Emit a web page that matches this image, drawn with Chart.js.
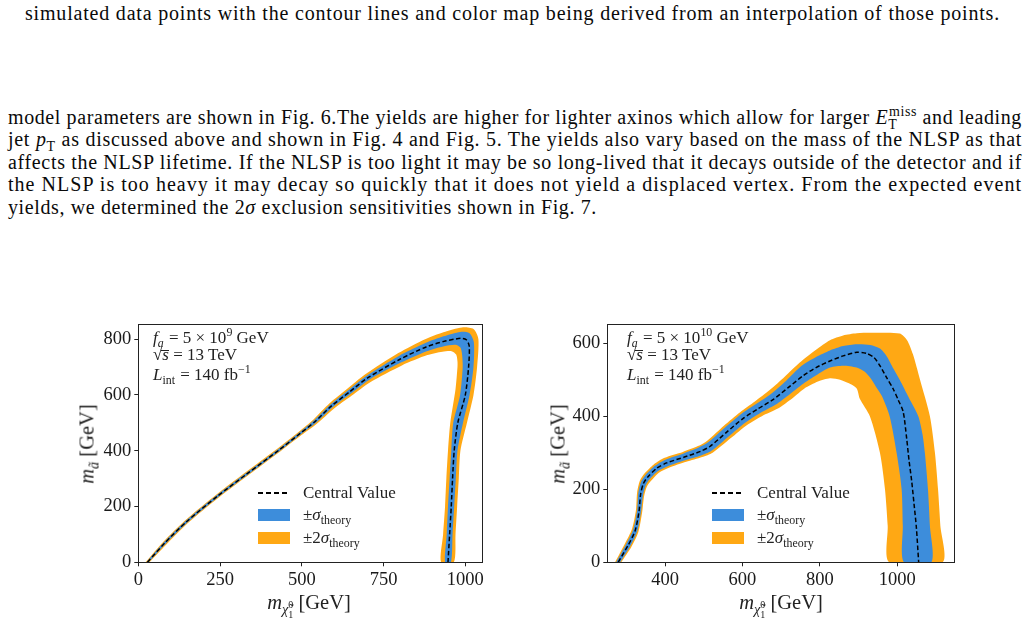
<!DOCTYPE html>
<html>
<head>
<meta charset="utf-8">
<script src="https://cdn.jsdelivr.net/npm/chart.js@4.4.1/dist/chart.umd.min.js"></script>
<style>
  html, body { margin: 0; padding: 0; background: #fff; }
  body { width: 1030px; height: 624px; position: relative; overflow: hidden;
         font-family: "Liberation Serif", "Times New Roman", serif; color: #111; }
  .txt { position: absolute; white-space: nowrap; font-family: "Liberation Serif", serif;
         font-size: 20px; line-height: 22px; color: #0a0a0a; }
  sub, sup { font-size: 0.7em; line-height: 0; }
  .ov1 { margin-left: -0.5em; }
  .ovT { margin-left: -0.611em; }
  .ol { position: relative; }
  .ol::before { content: ''; position: absolute; left: -1px; right: 0; top: 0.3em;
                border-top: 1px solid #222; }
  .chartbox { position: absolute; width: 440px; height: 300px; }
  .ann { position: absolute; white-space: nowrap; font-size: 17px; line-height: 18px; color: #222; }
  .ann sub { padding-right: 1px; }
  .dash { position: absolute; height: 1.6px;
          background: repeating-linear-gradient(90deg, #000 0 5.5px, transparent 5.5px 8px); }
  .sw { position: absolute; width: 32px; height: 12px; }
  .ytitle { position: absolute; white-space: nowrap; font-size: 20.5px; color: #222;
            transform: translate(-50%, -50%) rotate(-90deg); }
  .xtitle { position: absolute; white-space: nowrap; font-size: 20.5px; color: #222;
            transform: translate(-50%, -50%); }
</style>
</head>
<body>

<div class="txt fit" data-w="975" style="left:25px; top:2px;">simulated data points with the contour lines and color map being derived from an interpolation of those points.</div>

<div class="txt fit" data-w="1014" style="left:8px; top:105.5px;">model parameters are shown in Fig. 6.The yields are higher for lighter axinos which allow for larger <i>E</i><sub>T</sub><sup class="ovT">miss</sup> and leading</div>
<div class="txt fit" data-w="1014" style="left:8px; top:128px;">jet <i>p</i><sub>T</sub> as discussed above and shown in Fig. 4 and Fig. 5. The yields also vary based on the mass of the NLSP as that</div>
<div class="txt fit" data-w="1014" style="left:8px; top:150.5px;">affects the NLSP lifetime. If the NLSP is too light it may be so long-lived that it decays outside of the detector and if</div>
<div class="txt fit" data-w="1014" style="left:8px; top:173px;">the NLSP is too heavy it may decay so quickly that it does not yield a displaced vertex. From the expected event</div>
<div class="txt fit" data-w="589" style="left:8px; top:195.5px;">yields, we determined the 2<i>σ</i> exclusion sensitivities shown in Fig. 7.</div>

<div class="chartbox" style="left:60px; top:310px;"><canvas id="leftChart" width="440" height="300"></canvas></div>
<div class="chartbox" style="left:530px; top:310px;"><canvas id="rightChart" width="440" height="300"></canvas></div>

<!-- left panel text -->
<div class="ann" style="left:153px; top:328.5px;"><i>f</i><sub><i>a</i></sub> = 5 × 10<sup>9</sup> GeV</div>
<div class="ann" style="left:153px; top:346px;">√<span class="ol"><i>s</i></span> = 13 TeV</div>
<div class="ann" style="left:153px; top:366px;"><i>L</i><sub>int</sub> = 140 fb<sup>−1</sup></div>
<div class="dash" style="left:258px; top:492px; width:32px;"></div>
<div class="sw" style="left:258px; top:509px; background:#3d8ddb;"></div>
<div class="sw" style="left:258px; top:532px; background:#ffa814;"></div>
<div class="ann" style="left:303px; top:484px;">Central Value</div>
<div class="ann" style="left:303px; top:506px;">±<i>σ</i><sub>theory</sub></div>
<div class="ann" style="left:303px; top:529px;">±2<i>σ</i><sub>theory</sub></div>
<div class="ytitle" style="left:87px; top:444px;"><i>m</i><sub><i>ã</i></sub> [GeV]</div>
<div class="xtitle" style="left:309px; top:603px;"><i>m</i><sub><i>χ̃</i><sub>1</sub><sup class="ov1">0</sup></sub> [GeV]</div>

<!-- right panel text -->
<div class="ann" style="left:627px; top:328.5px;"><i>f</i><sub><i>a</i></sub> = 5 × 10<sup>10</sup> GeV</div>
<div class="ann" style="left:627px; top:346px;">√<span class="ol"><i>s</i></span> = 13 TeV</div>
<div class="ann" style="left:627px; top:366px;"><i>L</i><sub>int</sub> = 140 fb<sup>−1</sup></div>
<div class="dash" style="left:712px; top:492px; width:32px;"></div>
<div class="sw" style="left:712px; top:509px; background:#3d8ddb;"></div>
<div class="sw" style="left:712px; top:532px; background:#ffa814;"></div>
<div class="ann" style="left:757px; top:484px;">Central Value</div>
<div class="ann" style="left:757px; top:506px;">±<i>σ</i><sub>theory</sub></div>
<div class="ann" style="left:757px; top:529px;">±2<i>σ</i><sub>theory</sub></div>
<div class="ytitle" style="left:558px; top:444px;"><i>m</i><sub><i>ã</i></sub> [GeV]</div>
<div class="xtitle" style="left:781px; top:603px;"><i>m</i><sub><i>χ̃</i><sub>1</sub><sup class="ov1">0</sup></sub> [GeV]</div>

<script>
// tick labels
const leftXTicks = [0, 250, 500, 750, 1000];
const leftYTicks = [0, 200, 400, 600, 800];
const rightXTicks = [400, 600, 800, 1000];
const rightYTicks = [0, 200, 400, 600];

// left panel, f_a = 5e9 GeV  ([m_chi, m_axino] in GeV)
const leftCentral = [[28,0],[80,68],[146,144],[243,238],[330,315],[431,403],[495,462],[540,504],[590,560],[645,610],[700,660],[800,728],[880,772],[935,792],[985,803],[1003,798],[1012,775],[1010,700],[1000,600],[977,500],[966,400],[961,300],[957,200],[952,100],[947,0]];
const leftSigmaOuter = [[25,0],[78,71],[144,147],[241,241],[328,318],[429,406],[493,465],[537,508],[587,565],[641,616],[696,667],[797,740],[878,786],[933,810],[985,826],[1012,822],[1026,790],[1025,700],[1013,600],[993,500],[976,400],[971,300],[966,200],[961,100],[956,0]];
const leftSigmaInner = [[31,0],[82,65],[148,141],[245,235],[332,312],[433,400],[497,459],[543,500],[593,555],[649,604],[704,653],[803,716],[882,757],[935,775],[970,780],[985,770],[990,745],[992,700],[984,600],[963,500],[957,400],[952,300],[947,200],[943,100],[938,0]];
const leftTwoSigmaOuter = [[22,0],[76,73],[142,149],[239,243],[326,321],[427,409],[491,468],[535,511],[584,569],[638,621],[693,673],[795,750],[877,800],[933,825],[990,842],[1025,836],[1040,800],[1036,700],[1025,600],[1005,500],[985,400],[980,300],[975,200],[970,100],[965,0]];
const leftTwoSigmaInner = [[34,0],[85,63],[150,139],[247,233],[334,310],[435,398],[499,456],[546,497],[597,550],[653,598],[708,645],[806,706],[884,743],[930,755],[958,757],[972,745],[976,720],[976,700],[970,620],[954,500],[947,400],[942,300],[938,200],[932,100],[926,0]];

// right panel, f_a = 5e10 GeV
const rightCentral = [[279,0],[305,47],[323,87],[333,140],[337,186],[344,215],[355,233],[378,257],[404,272],[450,288],[490,303],[516,317],[560,357],[602,394],[640,420],[680,446],[718,478],[757,511],[790,533],[826,551],[860,565],[895,575],[920,572],[940,560],[955,538],[972,506],[989,475],[1002,445],[1015,412],[1024,339],[1030,280],[1037,222],[1043,160],[1049,96],[1055,0]];
const rightSigmaOuter = [[274,0],[300,50],[318,90],[328,142],[331,189],[338,220],[350,239],[374,264],[401,281],[448,298],[487,314],[512,329],[555,369],[597,406],[635,433],[675,462],[713,497],[752,537],[790,562],[826,580],[860,592],[895,597],[930,595],[955,585],[972,565],[990,530],[1006,500],[1030,450],[1054,400],[1065,350],[1071,300],[1079,200],[1084,100],[1088,0]];
const rightSigmaInner = [[284,0],[310,44],[328,84],[338,138],[343,183],[350,210],[360,227],[382,250],[407,263],[452,279],[493,292],[520,305],[565,345],[607,382],[645,408],[685,431],[723,461],[762,493],[795,515],[826,533],[860,538],[895,533],[915,522],[930,505],[945,480],[960,455],[980,400],[998,300],[1011,200],[1014,100],[1017,0]];
const rightTwoSigmaOuter = [[271,0],[297,52],[315,92],[325,143],[328,191],[335,223],[347,243],[371,268],[399,286],[446,302],[485,318],[509,333],[552,374],[594,411],[632,440],[671,472],[709,508],[748,547],[790,582],[826,608],[860,621],[895,627],[940,628],[1006,626],[1025,608],[1040,570],[1058,502],[1084,400],[1097,300],[1105,200],[1111,100],[1117,0]];
const rightTwoSigmaInner = [[287,0],[313,42],[331,82],[341,137],[346,181],[353,207],[364,223],[385,246],[410,259],[455,275],[496,288],[523,300],[570,340],[612,376],[650,400],[690,420],[730,450],[760,476],[795,495],[826,504],[852,500],[875,490],[895,476],[903,448],[929,400],[955,300],[968,200],[975,100],[979,0]];

const BLUE = '#3d8ddb';
const ORANGE = '#ffa814';

Chart.defaults.font.family = '"Liberation Serif", "Times New Roman", serif';

function pts(arr) {
    return arr.map(p => ({ x: p[0], y: p[1] }));
}

// closed polygon: outer edge out, inner edge back
function band(outer, inner, color) {
    return {
        data: pts(outer.concat(inner.slice().reverse())),
        backgroundColor: color,
        borderColor: 'rgba(0,0,0,0)',
        borderWidth: 0,
        pointRadius: 0,
        tension: 0.25,
        fill: 'shape'
    };
}

const framePlugin = {
    id: 'frame',
    afterDatasetsDraw(chart) {
        const { ctx, chartArea: a } = chart;
        ctx.save();
        ctx.strokeStyle = '#222';
        ctx.lineWidth = 1;
        ctx.strokeRect(Math.round(a.left) + 0.5, Math.round(a.top) + 0.5,
            Math.round(a.right - a.left), Math.round(a.bottom - a.top));
        ctx.restore();
    }
};

function axis(min, max, ticks, fit) {
    return {
        type: 'linear',
        min, max,
        afterBuildTicks: s => { s.ticks = ticks.map(v => ({ value: v })); },
        afterFit: fit,
        grid: { display: true, drawOnChartArea: false, drawTicks: true, tickLength: 4, color: '#222', lineWidth: 1 },
        border: { display: false },
        ticks: {
            color: '#1a1a1a', font: { size: 18.5 }, padding: 3, maxRotation: 0, autoSkip: false,
            callback: v => String(v)
        }
    };
}

function makeChart(id, d, xr, yr, yWidth, padRight) {
    return new Chart(document.getElementById(id), {
        type: 'line',
        data: {
            datasets: [
                {
                    data: pts(d.central),
                    borderColor: '#000',
                    borderWidth: 1.5,
                    borderDash: [4.5, 2.5],
                    pointRadius: 0,
                    tension: 0.25,
                    fill: false
                },
                band(d.sigmaOuter, d.sigmaInner, BLUE),
                band(d.twoSigmaOuter, d.twoSigmaInner, ORANGE)
            ]
        },
        options: {
            responsive: false,
            animation: false,
            events: [],
            layout: { padding: { left: 0, top: 11, right: padRight, bottom: 17.7 } },
            plugins: { legend: { display: false }, tooltip: { enabled: false } },
            scales: {
                x: axis(xr[0], xr[1], xr[2], s => { s.height = 30; }),
                y: axis(yr[0], yr[1], yr[2], s => { s.width = yWidth; })
            }
        },
        plugins: [framePlugin]
    });
}

makeChart('leftChart', {
    central: leftCentral,
    sigmaOuter: leftSigmaOuter, sigmaInner: leftSigmaInner,
    twoSigmaOuter: leftTwoSigmaOuter, twoSigmaInner: leftTwoSigmaInner
}, [0, 1051, leftXTicks], [0, 854, leftYTicks], 78.3, 18);

makeChart('rightChart', {
    central: rightCentral,
    sigmaOuter: rightSigmaOuter, sigmaInner: rightSigmaInner,
    twoSigmaOuter: rightTwoSigmaOuter, twoSigmaInner: rightTwoSigmaInner
}, [251, 1147, rightXTicks], [0, 652, rightYTicks], 77.3, 15.7);

// stretch the text lines to the widths they have in the page
document.querySelectorAll('.fit').forEach(el => {
    const target = +el.dataset.w;
    el.style.letterSpacing = '0px';
    const natural = el.getBoundingClientRect().width;
    const n = el.textContent.length;
    el.style.letterSpacing = ((target - natural) / n) + 'px';
});
</script>
</body>
</html>
